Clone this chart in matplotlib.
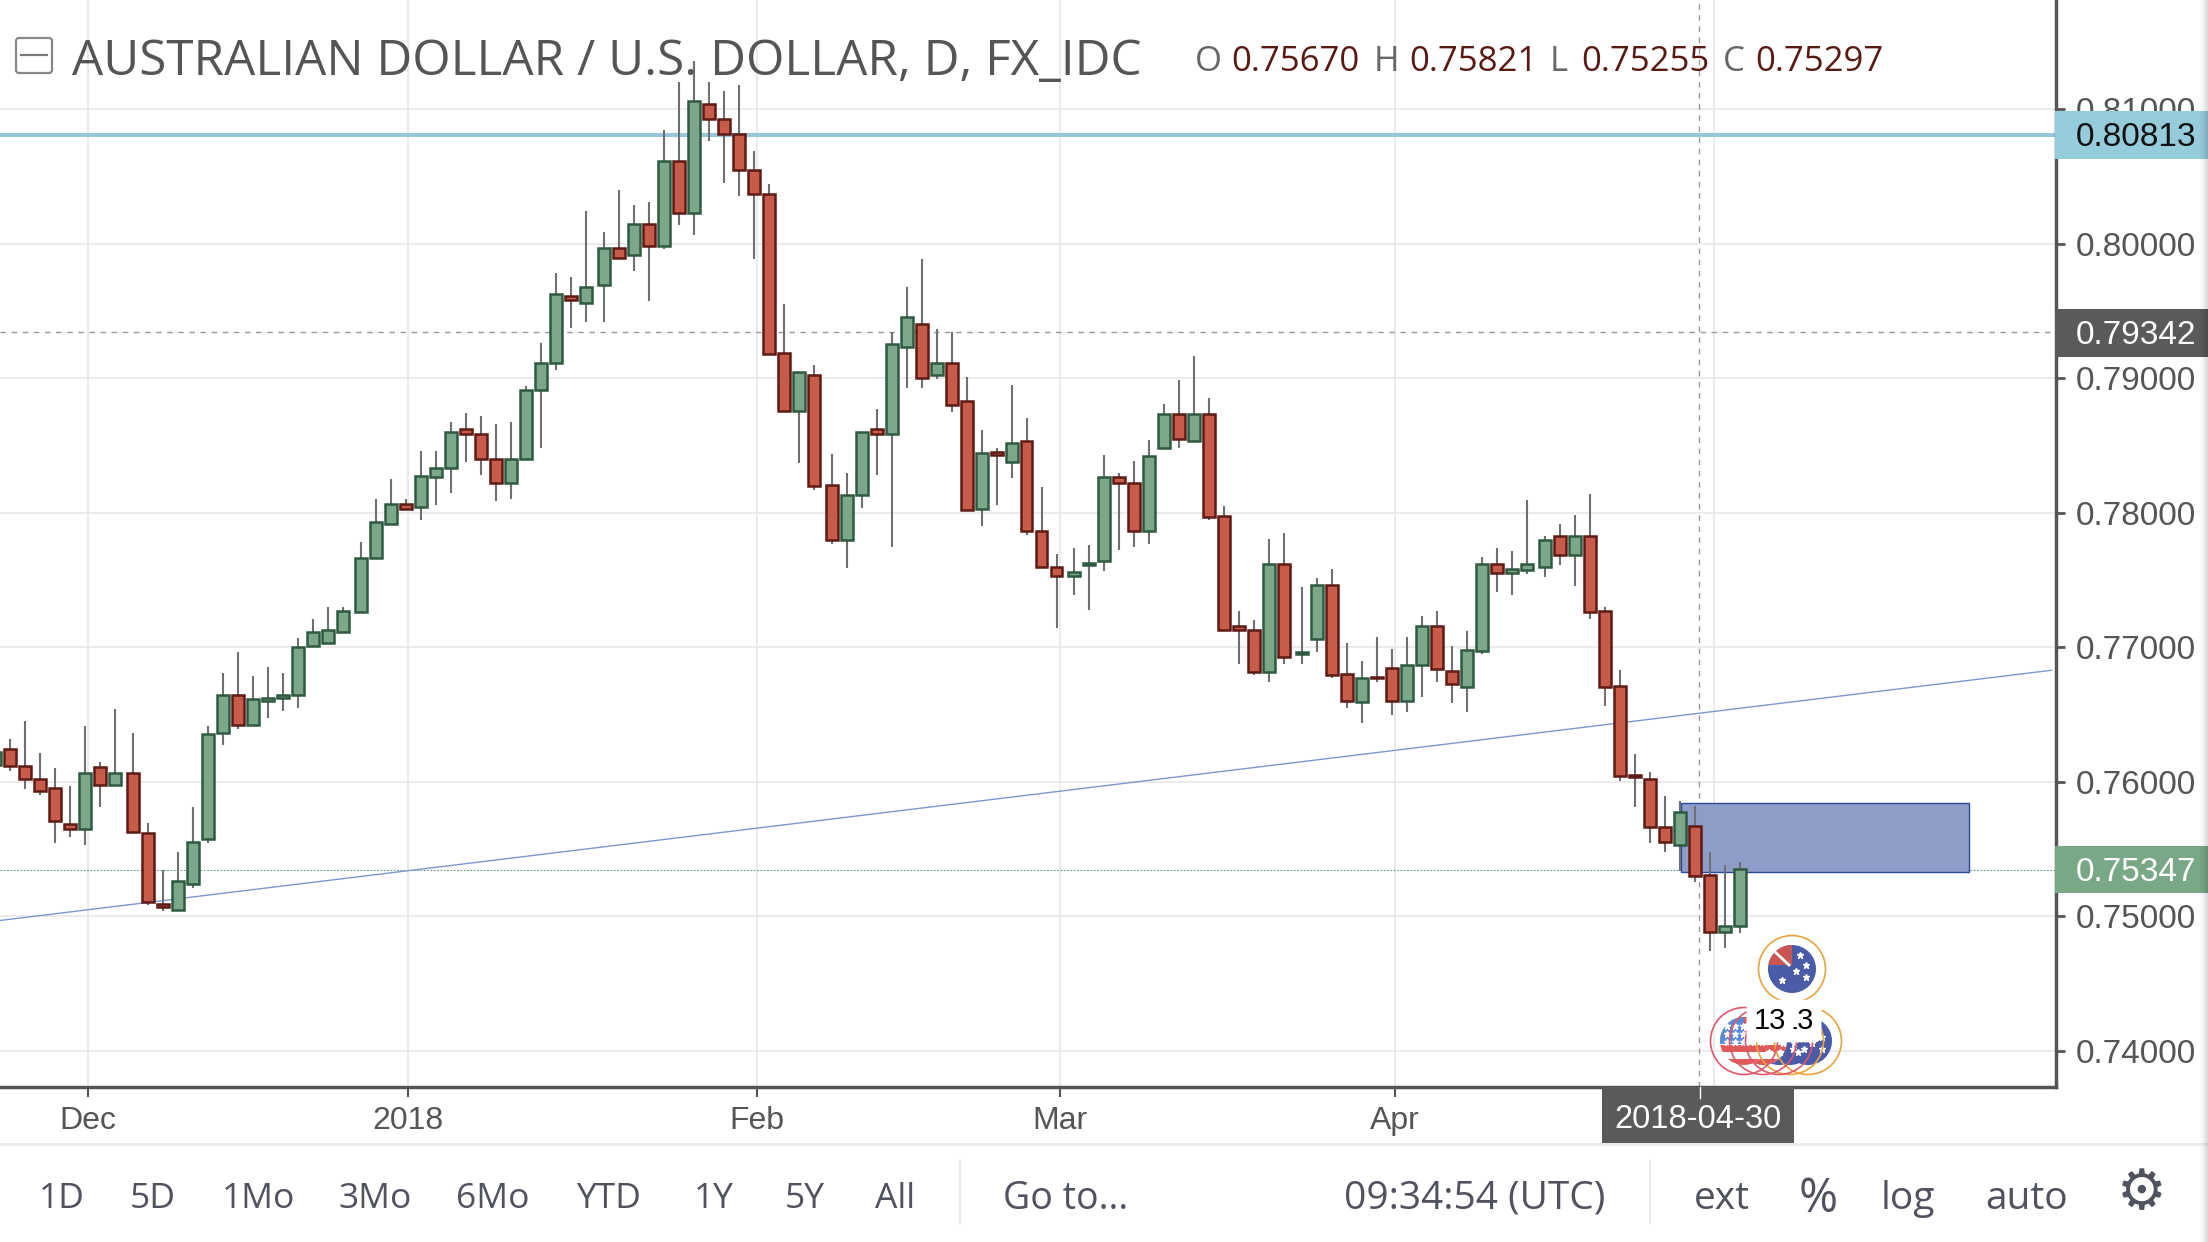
import numpy as np
import matplotlib
matplotlib.use('Agg')
import matplotlib.pyplot as plt
from matplotlib.patches import Rectangle, Circle, FancyBboxPatch

# daily bars, AUD/USD
opens = [.76123, .76243, .76115, .76021, .75957, .75689, .75647, .76111, .75974, .76068,
         .75621, .75094, .75047, .75243, .75574, .76362, .76643, .76426, .76600, .76626,
         .76643, .77009, .77030, .77115, .77264, .77668, .77915, .78064, .78047, .78268,
         .78336, .78626, .78583, .78404, .78221, .78404, .78915, .79115, .79610, .79561,
         .79695, .79966, .79917, .80148, .79986, .80615, .80231, .81040, .80926, .80818,
         .80547, .80368, .79188, .78758, .79028, .78205, .77801, .78134, .78627, .78584,
         .79231, .79405, .79026, .79117, .78832, .78028, .78450, .78382, .78538, .77869,
         .77601, .77530, .77615, .77642, .78269, .78225, .77862, .78486, .78736, .78531,
         .78736, .77980, .77158, .77133, .76820, .77622, .76948, .77062, .77467, .76800,
         .76595, .76783, .76844, .76598, .76867, .77158, .76825, .76709, .76975, .77622,
         .77553, .77575, .77598, .77825, .77689, .77825, .77269, .76714, .76051, .76021,
         .75664, .75528, .75670, .75310, .74887, .74932]
highs = [.76220, .76319, .76455, .76213, .76102, .75966, .76413, .76145, .76545, .76366,
         .75694, .75345, .75477, .75813, .76413, .76813, .76966, .76791, .76855, .76813,
         .77072, .77213, .77298, .77298, .77783, .78102, .78251, .78102, .78460, .78460,
         .78677, .78745, .78719, .78660, .78677, .78945, .79260, .79787, .79752, .80245,
         .80088, .80402, .80288, .80313, .80846, .81205, .81362, .81205, .81140, .81182,
         .80689, .80444, .79553, .79051, .79103, .78436, .78299, .78604, .78769, .79348,
         .79681, .79886, .79368, .79348, .79011, .78613, .78479, .78949, .78704, .78191,
         .77695, .77741, .77764, .78430, .78294, .78385, .78541, .78807, .78985, .79163,
         .78854, .78052, .77274, .77207, .77807, .77854, .77452, .77519, .77585, .77030,
         .76896, .77074, .76985, .77074, .77232, .77274, .77007, .77119, .77674, .77741,
         .77719, .78096, .77830, .77919, .77985, .78141, .77299, .76832, .76209, .76076,
         .75894, .75855, .75821, .75477, .75386, .75407]
lows = [.76123, .76081, .75945, .75902, .75549, .75591, .75528, .75817, .75974, .75626,
        .75085, .75038, .75047, .75213, .75549, .76277, .76391, .76426, .76477, .76528,
        .76549, .77009, .77030, .77115, .77264, .77668, .77915, .78021, .77945, .78060,
        .78149, .78379, .78285, .78085, .78106, .78404, .78485, .79064, .79376, .79419,
        .79419, .79897, .79800, .79578, .79960, .80137, .80066, .80764, .80450, .80359,
        .79889, .79182, .78758, .78370, .78171, .77772, .77593, .78037, .78285, .77749,
        .78926, .78926, .78997, .78752, .78023, .77906, .78057, .78256, .77835, .77601,
        .77145, .77387, .77279, .77570, .77726, .77746, .77768, .78486, .78479, .78531,
        .77948, .77133, .76879, .76793, .76746, .76879, .76879, .76968, .76770, .76546,
        .76435, .76746, .76501, .76523, .76635, .76746, .76590, .76523, .76948, .77412,
        .77390, .77546, .77523, .77612, .77457, .77212, .76568, .76010, .75815, .75546,
        .75477, .75340, .75255, .74744, .74766, .74878]
closes = [.76220, .76115, .76021, .75936, .75706, .75647, .76068, .75974, .76068, .75626,
          .75106, .75068, .75264, .75557, .76357, .76643, .76426, .76617, .76626, .76647,
          .77000, .77111, .77132, .77268, .77668, .77932, .78068, .78030, .78272, .78336,
          .78600, .78583, .78404, .78221, .78404, .78915, .79115, .79626, .79581, .79678,
          .79966, .79897, .80148, .79986, .80615, .80231, .81063, .80926, .80818, .80547,
          .80368, .79182, .78758, .79051, .78199, .77801, .78134, .78604, .78584, .79254,
          .79456, .79006, .79117, .78803, .78023, .78447, .78427, .78516, .77863, .77601,
          .77530, .77558, .77630, .78269, .78220, .77862, .78425, .78736, .78553, .78736,
          .77973, .77133, .77133, .76820, .77622, .76931, .76963, .77467, .76795, .76598,
          .76775, .76770, .76598, .76867, .77158, .76842, .76726, .76980, .77622, .77553,
          .77580, .77622, .77802, .77689, .77825, .77264, .76709, .76042, .76033, .75664,
          .75555, .75779, .75297, .74887, .74932, .75356]
# the chart nudges a few bars sideways, these are the bar numbers followed by a wider step
gap_after = [8, 23, 39, 54, 70, 85, 101]

price_ticks = [.74, .75, .76, .77, .78, .79, .80, .81]
month_pos = [5.18, 26.5, 49.8, 70.0, 92.3, 113.6]
month_labels = ['Dec', '2018', 'Feb', 'Mar', 'Apr', '']
high_line = 0.80813
prev_close = 0.79342
last_price = 0.75347
trend_x = [-0.69, 136.1]
trend_y = [0.7497, 0.7683]
zone_x = [111.4, 130.6]
zone_y = [0.75334, 0.75843]
cross_x = 112.6

range_buttons = ['1D', '5D', '1Mo', '3Mo', '6Mo', 'YTD', '1Y', '5Y', 'All']
range_x = [62, 153, 258, 375, 493, 609, 714, 805, 895]

UP_FILL, UP_EDGE = '#7ba888', '#2d5a41'
DN_FILL, DN_EDGE = '#c85c4a', '#5e1a14'
TXT = '#555555'
SANS = ['Open Sans', 'DejaVu Sans']
ARIAL = ['Liberation Sans', 'DejaVu Sans']

W, H = 2208, 1242
AX_R, AX_B = 2056, 1087
fig = plt.figure(figsize=(W / 100, H / 100), dpi=100, facecolor='white')
ax = fig.add_axes([0, 1 - AX_B / H, AX_R / W, AX_B / H])

idx = np.arange(len(opens))
xs = idx - 1 + 0.19 * np.array([sum(g < i for g in gap_after) for i in idx])
o, h, l, c = map(np.array, (opens, highs, lows, closes))
up = c >= o

ax.grid(True, color='#e6e6e6', lw=1.1, zorder=0)
ax.set_axisbelow(True)
ax.axhline(high_line, color='#96c8da', lw=3, zorder=1)
ax.axhline(prev_close, color='#999999', lw=1, dashes=(4, 4), zorder=1)
ax.axhline(last_price, color='#5f9a80', lw=0.8, dashes=(1.5, 1.5), zorder=1)
ax.axvline(cross_x, color='#999999', lw=1, dashes=(4, 4), zorder=1)
ax.plot(trend_x, trend_y, color='#7e97cd', lw=1, zorder=1.5)
ax.add_patch(Rectangle((zone_x[0], zone_y[0]), zone_x[1] - zone_x[0], zone_y[1] - zone_y[0],
                       fc='#8e9dc8', ec='#2a4aa0', lw=1, zorder=1.6))

ax.vlines(xs, l, h, color='#707070', lw=1.5, zorder=2)
for mask, fill, edge in [(up, UP_FILL, UP_EDGE), (~up, DN_FILL, DN_EDGE)]:
    ax.bar(xs[mask], (c - o)[mask], bottom=o[mask], width=0.79,
           facecolor=fill, edgecolor=edge, linewidth=1.8, zorder=3)

ax.set_xlim(-0.69, 136.4)
ax.set_ylim(0.73732, 0.81813)
ax.yaxis.tick_right()
ax.set_yticks(price_ticks, ['%.5f' % p for p in price_ticks], family=ARIAL, fontsize=24, color=TXT)
ax.set_xticks(month_pos, month_labels, family=ARIAL, fontsize=23, color=TXT)
ax.tick_params(axis='y', length=6.5, width=2, color=TXT, pad=8)
ax.tick_params(axis='x', length=7.5, width=1.5, color=TXT, pad=6)
for s in ['top', 'left']:
    ax.spines[s].set_visible(False)
for s in ['right', 'bottom']:
    ax.spines[s].set_color('#555555')
    ax.spines[s].set_linewidth(2.5)

# overlay in screen pixels for the chart furniture
ov = fig.add_axes([0, 0, 1, 1], facecolor='none')
ov.set_xlim(0, W)
ov.set_ylim(H, 0)
ov.axis('off')

ov.add_patch(FancyBboxPatch((16, 38), 36, 35, boxstyle='round,pad=0,rounding_size=3',
                            fc='none', ec='#888888', lw=1.6))
ov.plot([21, 47], [55, 55], color='#777777', lw=1.6)
ov.text(72, 62, 'AUSTRALIAN DOLLAR / U.S. DOLLAR, D, FX_IDC', family=SANS, fontsize=35.6,
        color='#555555', va='center', ha='left')
for lab, lx, val, vx in [('O', 1208, '0.75670', 1231), ('H', 1386, '0.75821', 1409),
                         ('L', 1559, '0.75255', 1581), ('C', 1734, '0.75297', 1755)]:
    ov.text(lx, 62, lab, family=SANS, fontsize=25, color='#666666', va='center', ha='center')
    ov.text(vx, 62, val, family=SANS, fontsize=25, color='#5a1a14', va='center', ha='left')

# price flags on the scale
for y0, y1, col, txtcol, val in [(111, 159, '#96cbdc', '#111111', high_line),
                                 (309, 357, '#5a5a5a', 'white', prev_close),
                                 (846, 893, '#78a886', 'white', last_price)]:
    ov.add_patch(Rectangle((2055, y0), W - 2055, y1 - y0, fc=col, ec='none'))
    ov.text(2136, (y0 + y1) / 2 + 3, '%.5f' % val, family=ARIAL, fontsize=24, color=txtcol,
            ha='center', va='center')

# crosshair date
ov.add_patch(Rectangle((1602, 1087), 192, 56, fc='#5a5a5a', ec='none'))
ov.plot([1700, 1700], [1087, 1098], color='white', lw=1)
ov.text(1698, 1120, '2018-04-30', family=ARIAL, fontsize=23.5, color='white', ha='center', va='center')

# event bubbles
def bubble(cx, cy, ring, kind):
    disc = Circle((cx, cy), 24, transform=ov.transData)
    if kind == 'au':
        ov.add_patch(Circle((cx, cy), 24, fc='#4a5ba8', ec='none'))
        p = ov.add_patch(Rectangle((cx - 24, cy - 24), 24, 20, fc='#c95550', ec='none'))
        p.set_clip_path(disc)
        ov.plot([cx - 18, cx - 3], [cy - 18, cy - 4], color='white', lw=2)
        ov.plot([cx + 8, cx + 14, cx + 4, cx + 14, cx - 10], [cy - 14, cy - 4, cy + 2, cy + 8, cy + 11],
                ls='none', marker='*', ms=5, color='white')
    else:
        ov.add_patch(Circle((cx, cy), 24, fc='white', ec='none'))
        for k in range(0, 7, 2):
            p = ov.add_patch(Rectangle((cx - 24, cy - 24 + k * 7), 48, 7, fc='#e05a5a', ec='none'))
            p.set_clip_path(disc)
        p = ov.add_patch(Rectangle((cx - 24, cy - 24), 24, 27, fc='#5b8bd8', ec='none'))
        p.set_clip_path(disc)
        ov.plot([cx - 17, cx - 9, cx - 1, cx - 17, cx - 9, cx - 1, cx - 17, cx - 9, cx - 1],
                [cy - 15, cy - 15, cy - 15, cy - 7, cy - 7, cy - 7, cy + 1, cy + 1, cy + 1],
                ls='none', marker='*', ms=5, color='white')
    ov.add_patch(Circle((cx, cy), 33.5, fc='none', ec=ring, lw=1.2, zorder=5))

bubble(1792, 969, '#e8a33d', 'au')
bubble(1808, 1041, '#e8a33d', 'au')
bubble(1790, 1041, '#e8a33d', 'au')
bubble(1779, 1041, '#e0566a', 'au')
bubble(1763, 1041, '#e0566a', 'us')
bubble(1744, 1041, '#e0566a', 'us')
box = dict(boxstyle='round,pad=0.25', fc='white', ec='none')
ov.text(1798, 1021, '13', family=ARIAL, fontsize=21, color='black', ha='center', va='center', bbox=box, zorder=6)
ov.text(1770, 1021, '13', family=ARIAL, fontsize=21, color='black', ha='center', va='center', bbox=box, zorder=6)

# bottom toolbar
ov.add_patch(Rectangle((0, 1200), 40, 42, fc='#eeeeee', ec='none'))
ov.add_patch(FancyBboxPatch((0, 1146), W, 200, boxstyle='round,pad=0,rounding_size=24', fc='white', ec='none'))
ov.add_patch(Rectangle((0, 1143), W, 3, fc='#eeeeee', ec='none'))
for lab, x in zip(range_buttons, range_x):
    ov.text(x, 1199, lab, family=SANS, fontsize=25.5, color='#50535e', ha='center', va='center')
ov.plot([960, 960], [1161, 1223], color='#e8e8e8', lw=1.5)
ov.plot([1650, 1650], [1161, 1223], color='#e8e8e8', lw=1.5)
ov.text(1003, 1199, 'Go to...', family=SANS, fontsize=27, color='#50535e', ha='left', va='center')
ov.text(1344, 1199, '09:34:54 (UTC)', family=SANS, fontsize=28, color='#50535e', ha='left', va='center')
for lab, x, fs in [('ext', 1722, 28), ('%', 1818, 34), ('log', 1908, 28), ('auto', 2027, 28)]:
    ov.text(x, 1199, lab, family=SANS, fontsize=fs, color='#50535e', ha='center', va='center')
ov.text(2142, 1194, '\u2699', family=['DejaVu Sans'], fontsize=40, color='#50535e', ha='center', va='center')

# shadow down the right edge of the screenshot
for k, a in enumerate([0.02, 0.03, 0.04, 0.06, 0.08, 0.10, 0.12, 0.14]):
    ov.add_patch(Rectangle((2200 + k, 0), 1, H, fc='black', alpha=a, ec='none', zorder=7))

fig.savefig('out.png', dpi=100)
